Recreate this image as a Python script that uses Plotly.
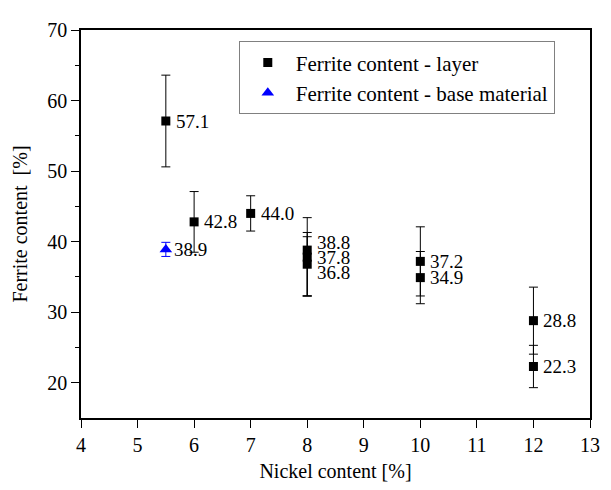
import plotly.graph_objects as go

# Layer data
layer_x = [5.5, 6, 7, 8, 8, 8, 10, 10, 12, 12]
layer_y = [57.1, 42.8, 44.0, 38.8, 37.8, 36.8, 37.2, 34.9, 28.8, 22.3]
layer_err_plus = [6.5, 4.3, 2.5, 4.6, 2.9, 4.5, 4.9, 3.7, 4.75, 3.0]
layer_err_minus = [6.5, 4.3, 2.5, 6.5, 5.5, 4.5, 4.9, 3.7, 4.75, 3.0]
layer_labels = ["57.1", "42.8", "44.0", "38.8", "37.8", "36.8", "37.2", "34.9", "28.8", "22.3"]
label_yshift = [0, 0, 0, 8, 0, -8, 0, 0, 0, 0]

# Base material data
base_x = [5.5]
base_y = [38.9]
base_err = [1.0]
base_labels = ["38.9"]

FONT = "Liberation Serif"

fig = go.Figure()
fig.add_trace(go.Scatter(
    x=layer_x, y=layer_y, mode="markers",
    name="Ferrite content - layer",
    marker=dict(symbol="square", size=9, color="black"),
    error_y=dict(type="data", symmetric=False, array=layer_err_plus,
                 arrayminus=layer_err_minus, color="black", thickness=1, width=4.5),
))
fig.add_trace(go.Scatter(
    x=base_x, y=base_y, mode="markers",
    name="Ferrite content - base material",
    marker=dict(symbol="triangle-up", size=11, color="blue"),
    error_y=dict(type="data", array=base_err, color="blue", thickness=1, width=4.5),
))

for xv, yv, t, ys in zip(layer_x, layer_y, layer_labels, label_yshift):
    fig.add_annotation(x=xv, y=yv, text=t, showarrow=False, xanchor="left",
                       xshift=8, yshift=ys, font=dict(family=FONT, size=19, color="black"))
for xv, yv, t in zip(base_x, base_y, base_labels):
    fig.add_annotation(x=xv, y=yv, text=t, showarrow=False, xanchor="left",
                       xshift=6, font=dict(family=FONT, size=19, color="black"))

# the page body adds an 8px offset, so the figure is 8px smaller on each axis
fig.update_layout(
    width=603, height=482,
    margin=dict(l=73, r=18, t=11, b=61),
    paper_bgcolor="white", plot_bgcolor="white",
    font=dict(family=FONT, size=19, color="black"),
    legend=dict(x=0.31, y=0.971, xanchor="left", yanchor="top",
                bordercolor="#808080", borderwidth=1, bgcolor="white",
                font=dict(family=FONT, size=21, color="black"), tracegroupgap=0,
                itemwidth=46),
    showlegend=True,
)
fig.update_xaxes(
    range=[4, 13], dtick=1, tick0=4, showgrid=False, zeroline=False,
    showline=True, linecolor="black", linewidth=1.5, mirror=True,
    ticks="outside", ticklen=8, tickcolor="black",
    tickfont=dict(family=FONT, size=20, color="black"),
    title=dict(text="Nickel content [%]", font=dict(family=FONT, size=20, color="black"), standoff=9),
)
fig.update_yaxes(
    range=[15, 70], tickvals=[20, 30, 40, 50, 60, 70], showgrid=False, zeroline=False,
    showline=True, linecolor="black", linewidth=1.5, mirror=True,
    ticks="outside", ticklen=8, tickcolor="black",
    tickfont=dict(family=FONT, size=20, color="black"),
    minor=dict(tickvals=[25, 35, 45, 55, 65], ticks="outside", ticklen=4, tickcolor="black"),
    title=dict(text="Ferrite content\u00a0 [%]", font=dict(family=FONT, size=20, color="black"), standoff=14),
)

fig.write_html("out.html")
